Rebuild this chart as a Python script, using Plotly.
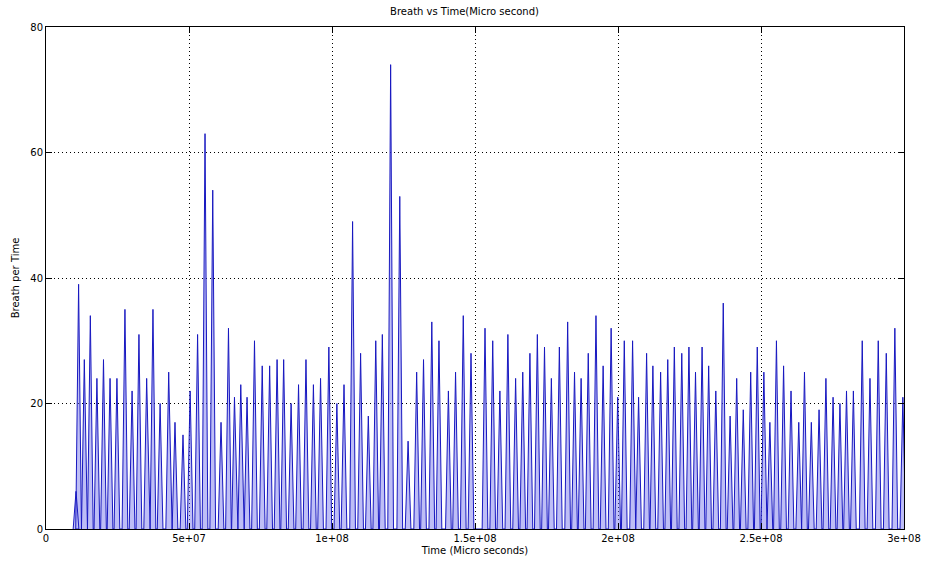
import plotly.graph_objects as go

# Peak times (microseconds) and breath-rate peak values
peak_times = [
    10.5e6, 11.4e6, 13.4e6, 15.5e6, 17.8e6, 20.1e6, 22.4e6, 24.8e6, 27.6e6, 30.1e6,
    32.5e6, 35.2e6, 37.4e6, 39.9e6, 42.9e6, 45.1e6, 47.9e6, 50.4e6, 53.0e6, 55.6e6,
    58.3e6, 61.2e6, 63.8e6, 65.9e6, 68.1e6, 70.3e6, 72.9e6, 75.6e6, 78.2e6, 80.8e6,
    83.1e6, 85.7e6, 88.3e6, 90.9e6, 93.5e6, 96.0e6, 98.9e6, 101.7e6, 104.2e6, 107.2e6,
    110.0e6, 112.7e6, 115.3e6, 117.6e6, 120.5e6, 123.7e6, 126.6e6, 129.6e6, 132.0e6, 134.9e6,
    137.4e6, 140.7e6, 143.2e6, 145.9e6, 148.6e6, 153.5e6, 156.2e6, 158.7e6, 161.5e6, 164.2e6,
    166.7e6, 169.2e6, 171.8e6, 174.3e6, 176.7e6, 179.5e6, 182.4e6, 184.8e6, 187.1e6, 189.6e6,
    192.3e6, 194.8e6, 197.6e6, 199.9e6, 202.2e6, 205.1e6, 207.2e6, 210.0e6, 212.2e6, 214.9e6,
    217.4e6, 219.7e6, 222.3e6, 224.8e6, 227.1e6, 229.4e6, 231.7e6, 234.2e6, 236.8e6, 239.2e6,
    241.5e6, 243.8e6, 246.4e6, 248.7e6, 251.0e6, 253.1e6, 255.4e6, 257.9e6, 260.5e6, 263.2e6,
    265.2e6, 267.6e6, 270.3e6, 272.7e6, 275.2e6, 277.6e6, 279.9e6, 282.3e6, 285.4e6, 288.1e6,
    291.0e6, 293.8e6, 296.8e6, 299.6e6,
]
peak_values = [
    6, 39, 27, 34, 24, 27, 24, 24, 35, 22,
    31, 24, 35, 20, 25, 17, 15, 22, 31, 63,
    54, 17, 32, 21, 23, 21, 30, 26, 26, 27,
    27, 20, 23, 27, 23, 24, 29, 20, 23, 49,
    28, 18, 30, 31, 74, 53, 14, 25, 27, 33,
    30, 22, 25, 34, 28, 32, 30, 22, 31, 24,
    25, 28, 31, 29, 24, 29, 33, 25, 24, 28,
    34, 26, 32, 21, 30, 30, 21, 28, 26, 25,
    27, 29, 28, 29, 25, 29, 26, 22, 36, 18,
    24, 19, 25, 29, 25, 17, 30, 26, 22, 17,
    25, 17, 19, 24, 21, 20, 22, 22, 30, 24,
    30, 28, 32, 21,
]

x_tick_vals = [0, 5e7, 1e8, 1.5e8, 2e8, 2.5e8, 3e8]
x_tick_text = ["0", "5e+07", "1e+08", "1.5e+08", "2e+08", "2.5e+08", "3e+08"]
y_tick_vals = [0, 20, 40, 60, 80]

# Each breath is a narrow spike: up from zero to its peak, back down to zero
half_width = 1.0e6
xs, ys = [], []
for t, v in zip(peak_times, peak_values):
    xs += [t - half_width, t, t + half_width]
    ys += [0, v, 0]

fig = go.Figure()
fig.add_trace(go.Scatter(
    x=xs, y=ys, mode="lines",
    line=dict(color="#1818c0", width=1),
    fill="tozeroy", fillcolor="rgba(110,110,235,0.45)",
    showlegend=False, hoverinfo="skip",
))

axis_font = dict(family="DejaVu Sans", size=10, color="#000000")
grid_dash = "1px,3px"
fig.update_layout(
    width=929, height=563,
    margin=dict(l=46, r=25, t=27, b=34),
    paper_bgcolor="white", plot_bgcolor="white",
    title=dict(text="Breath vs Time(Micro second)", x=0.5, xanchor="center",
               y=0.985, yanchor="top", font=axis_font),
    font=axis_font,
)
fig.update_xaxes(
    range=[0, 3e8], tickvals=x_tick_vals, ticktext=x_tick_text,
    showline=True, linecolor="black", linewidth=1, mirror="allticks",
    ticks="inside", ticklen=6, tickcolor="black",
    showgrid=True, gridcolor="black", griddash=grid_dash, gridwidth=1,
    zeroline=False, tickfont=axis_font, automargin=False,
    title=dict(text="Time (Micro seconds)", font=axis_font, standoff=3),
)
fig.update_yaxes(
    range=[0, 80], tickvals=y_tick_vals,
    showline=True, linecolor="black", linewidth=1, mirror="allticks",
    ticks="inside", ticklen=6, tickcolor="black",
    showgrid=True, gridcolor="black", griddash=grid_dash, gridwidth=1,
    zeroline=False, tickfont=axis_font, automargin=False,
    title=dict(text="Breath per Time", font=axis_font, standoff=8),
)

fig.write_html("out.html")
